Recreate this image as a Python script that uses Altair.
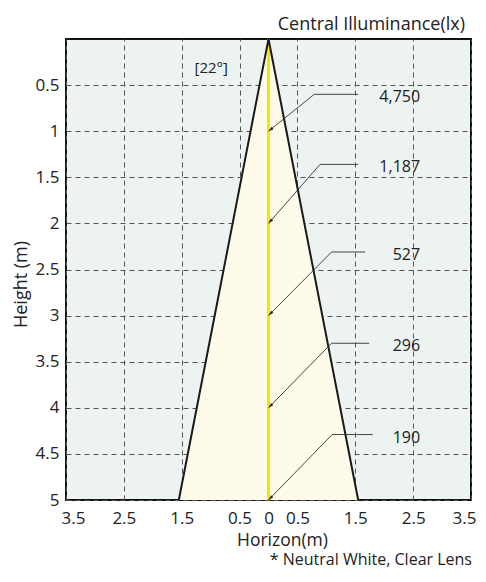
import math
import altair as alt
import pandas as pd

# ---- data ----
beam_height = [0, 5]
beam_half_width = [0, 1.55]

heights = [1, 2, 3, 4, 5]
lux_labels = ["4,750", "1,187", "527", "296", "190"]
elbow_x = [0.79, 0.89, 1.09, 1.09, 1.10]
elbow_y = [0.60, 1.36, 2.31, 3.30, 4.29]
end_x = [1.55, 1.55, 1.67, 1.74, 1.80]
label_x = 2.62

x_ticks = [-3.5, -2.5, -1.5, -0.5, 0, 0.5, 1.5, 2.5, 3.5]
y_ticks = [0.5, 1, 1.5, 2, 2.5, 3, 3.5, 4, 4.5, 5]

beam_angle_text = "[22°]"
beam_angle_pos = (-0.99, 0.31)

W, H = 405, 461
FONT = "Open Sans"
TXT = "#222"

xs = alt.Scale(domain=[-3.5, 3.5], nice=False, zero=False)
ys = alt.Scale(domain=[0, 5], reverse=True, nice=False, zero=False)

x_axis = alt.Axis(values=x_ticks, labelExpr="'' + abs(datum.value)", title="Horizon(m)",
                  grid=True, gridDash=[5, 4], gridColor="#555", gridWidth=1,
                  ticks=False, tickSize=0, domain=False, labelPadding=10,
                  labelFontSize=17, titleFontSize=17.5, titleFontWeight="normal",
                  labelFont=FONT, titleFont=FONT, labelColor=TXT, titleColor=TXT,
                  titleX=216, titleY=40.5, titleBaseline="middle",
                  labelFlush=True, labelFlushOffset=5)
y_axis = alt.Axis(values=y_ticks, labelExpr="'' + datum.value", title="Height (m)",
                  grid=True, gridDash=[5, 4], gridColor="#555", gridWidth=1,
                  ticks=False, tickSize=0, domain=False, labelPadding=7,
                  labelFontSize=17, titleFontSize=18, titleFontWeight="normal",
                  labelFont=FONT, titleFont=FONT, labelColor=TXT, titleColor=TXT,
                  titleX=-45, titleY=245, titleBaseline="middle", labelFlush=False)

# beam area
beam_df = pd.DataFrame({
    "h": beam_height,
    "left": [-w for w in beam_half_width],
    "right": beam_half_width,
})
area = alt.Chart(beam_df).mark_area(orient="horizontal", color="#fefbea", opacity=1).encode(
    y=alt.Y("h:Q", scale=ys, axis=y_axis),
    x=alt.X("left:Q", scale=xs, axis=x_axis),
    x2="right:Q",
)

# beam outline
outline_df = pd.DataFrame({
    "x": [-beam_half_width[1], 0, beam_half_width[1]],
    "y": [beam_height[1], 0, beam_height[1]],
    "o": [0, 1, 2],
})
outline = alt.Chart(outline_df).mark_line(color="#1a1a1a", strokeWidth=2).encode(
    x=alt.X("x:Q", scale=xs), y=alt.Y("y:Q", scale=ys), order="o:Q"
)

# centre line
center = alt.Chart(pd.DataFrame({"x": [0], "y": [0], "y2": [5]})).mark_rule(
    color="#ffe000", strokeWidth=3).encode(
    x=alt.X("x:Q", scale=xs), y=alt.Y("y:Q", scale=ys), y2="y2:Q")

# leader lines
rows = []
for i, lab in enumerate(lux_labels):
    rows.append({"lab": lab, "o": 0, "x": 0, "y": heights[i]})
    rows.append({"lab": lab, "o": 1, "x": elbow_x[i], "y": elbow_y[i]})
    rows.append({"lab": lab, "o": 2, "x": end_x[i], "y": elbow_y[i]})
lead_df = pd.DataFrame(rows)
leaders = alt.Chart(lead_df).mark_line(color="#333", strokeWidth=0.9).encode(
    x=alt.X("x:Q", scale=xs), y=alt.Y("y:Q", scale=ys), detail="lab:N", order="o:Q"
)

sx, sy = W / 7.0, H / 5.0
arrow_df = pd.DataFrame({
    "x": [0] * len(heights),
    "y": heights,
    "ang": [180 + math.degrees(math.atan2(elbow_x[i] * sx, (heights[i] - elbow_y[i]) * sy))
            for i in range(len(heights))],
})
arrows = alt.Chart(arrow_df).mark_point(
    shape="M0,0 L-0.3,1 L0.3,1 Z", filled=True, color="#222", size=110, opacity=1
).encode(x=alt.X("x:Q", scale=xs), y=alt.Y("y:Q", scale=ys), angle=alt.Angle("ang:Q", scale=None))

label_df = pd.DataFrame({"x": [label_x] * len(lux_labels), "y": elbow_y, "t": lux_labels})
labels = alt.Chart(label_df).mark_text(align="right", baseline="middle", dy=3,
                                        font=FONT, fontSize=16, color=TXT).encode(
    x=alt.X("x:Q", scale=xs), y=alt.Y("y:Q", scale=ys), text="t:N")

angle_lbl = alt.Chart(pd.DataFrame({"x": [beam_angle_pos[0]], "y": [beam_angle_pos[1]],
                                    "t": [beam_angle_text]})).mark_text(
    align="center", baseline="middle", font=FONT, fontSize=15, color=TXT).encode(
    x=alt.X("x:Q", scale=xs), y=alt.Y("y:Q", scale=ys), text="t:N")

foot = alt.Chart(pd.DataFrame({"t": ["* Neutral White, Clear Lens"]})).mark_text(
    align="right", baseline="middle", font=FONT, fontSize=16, color=TXT).encode(
    x=alt.value(406), y=alt.value(H + 60), text="t:N")

chart = alt.layer(area, center, outline, leaders, arrows, labels, angle_lbl, foot).properties(
    width=W, height=H,
    title=alt.Title("Central Illuminance(lx)", anchor="end", frame="group", fontSize=18,
                    fontWeight="normal", font=FONT, color=TXT, offset=1, dx=-6),
    autosize=alt.AutoSizeParams(type="none"),
    padding={"left": 58, "top": 31, "right": 5, "bottom": 70},
).configure_view(fill="#edf3f1", stroke="#111", strokeWidth=2)

chart.save("out.html", embed_options={"renderer": "svg", "actions": False})
